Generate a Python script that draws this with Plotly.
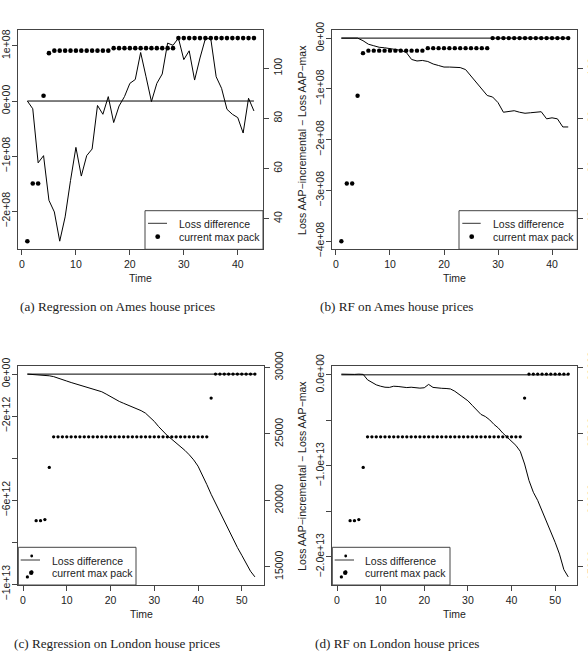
import plotly.graph_objects as go

# ---------------- data ----------------
time_ames = list(range(1, 44))
time_london = list(range(1, 54))

# Loss AAP-incremental - Loss AAP-max (Ames, units of 1e8)
ames_reg_diff_e8 = [0, -0.14, -1.12, -0.99, -1.80, -2.01, -2.54, -2.10, -1.44, -0.84,
                    -1.36, -0.99, -0.87, -0.08, -0.24, 0.08, -0.39, -0.09, 0.08, 0.32,
                    0.39, 0.88, 0.44, -0.01, 0.32, 0.49, 1.05, 1.01, 1.14, 0.75,
                    0.91, 0.38, 0.78, 1.13, 1.13, 0.44, 0.23, -0.15, -0.24, -0.30,
                    -0.58, 0.05, -0.18]
ames_rf_diff_e8 = [0, 0, 0, 0, -0.05, -0.12, -0.15, -0.18, -0.19, -0.21,
                   -0.22, -0.24, -0.28, -0.42, -0.45, -0.44, -0.46, -0.51, -0.54, -0.57,
                   -0.57, -0.57, -0.58, -0.62, -0.75, -0.88, -1.01, -1.13, -1.16, -1.27,
                   -1.46, -1.45, -1.43, -1.46, -1.48, -1.47, -1.46, -1.45, -1.59, -1.57,
                   -1.59, -1.75, -1.75]
ames_max_pack = [31, 54, 54, 89, 106, 107, 107, 107, 107, 107,
                 107, 107, 107, 107, 107, 107, 108, 108, 108, 108,
                 108, 108, 108, 108, 108, 108, 108, 108, 112, 112,
                 112, 112, 112, 112, 112, 112, 112, 112, 112, 112,
                 112, 112, 112]

# London (units of 1e12)
london_reg_diff_e12 = [0, -0.01, -0.02, -0.03, -0.05, -0.08, -0.12, -0.18, -0.25, -0.33,
                       -0.40, -0.46, -0.52, -0.58, -0.64, -0.71, -0.78, -0.84, -0.95, -1.08,
                       -1.20, -1.30, -1.39, -1.48, -1.56, -1.64, -1.74, -1.86, -2.04, -2.25,
                       -2.50, -2.74, -2.93, -3.10, -3.27, -3.45, -3.63, -3.84, -4.08, -4.38,
                       -4.78, -5.25, -5.72, -6.15, -6.57, -7.00, -7.42, -7.85, -8.25, -8.62,
                       -9.00, -9.38, -9.65]
london_rf_diff_e12 = [0.08, 0.05, 0.05, 0.05, 0.08, 0.05, -0.55, -0.85, -1.10, -1.25,
                      -1.36, -1.38, -1.25, -1.28, -1.33, -1.40, -1.36, -1.45, -1.46, -1.42,
                      -1.05, -1.38, -1.45, -1.48, -1.50, -1.55, -1.80, -2.15, -2.50, -2.85,
                      -3.35, -3.90, -4.35, -4.58, -4.95, -5.45, -5.85, -6.40, -6.85, -7.35,
                      -7.75, -8.40, -9.80, -11.60, -12.90, -13.80, -14.90, -16.00, -17.20, -18.40,
                      -19.70, -21.40, -22.20]
london_max_pack = [14250, 14620, 18480, 18480, 18560, 22480, 24780, 24780, 24780, 24780,
                   24780, 24780, 24780, 24780, 24780, 24780, 24780, 24780, 24780, 24780,
                   24780, 24780, 24780, 24780, 24780, 24780, 24780, 24780, 24780, 24780,
                   24780, 24780, 24780, 24780, 24780, 24780, 24780, 24780, 24780, 24780,
                   24780, 24780, 27700, 29500, 29500, 29500, 29500, 29500, 29500, 29500,
                   29500, 29500, 29500]

captions = ["(a) Regression on Ames house prices", "(b) RF on Ames house prices",
            "(c) Regression on London house prices", "(d) RF on London house prices"]
legend_labels = ["Loss difference", "current max pack"]
ylabel = "Loss AAP\u2212incremental \u2212 Loss AAP\u2212max"

# tick labels
ames_reg_left_vals = [-2e8, -1e8, 0, 1e8]
ames_reg_left_text = ["\u22122e+08", "\u22121e+08", "0e+00", "1e+08"]
ames_rf_left_vals = [-4e8, -3e8, -2e8, -1e8, 0]
ames_rf_left_text = ["\u22124e+08", "\u22123e+08", "\u22122e+08", "\u22121e+08", "0e+00"]
london_reg_left_vals = [-1e13, -8e12, -6e12, -4e12, -2e12, 0]
london_reg_left_text = ["\u22121e+13", "", "\u22126e+12", "", "\u22122e+12", "0e+00"]
london_rf_left_vals = [-2e13, -1.5e13, -1e13, -5e12, 0]
london_rf_left_text = ["\u22122.0e+13", "", "\u22121.0e+13", "", "0.0e+00"]
ames_right_ticks = [40, 60, 80, 100]
london_right_ticks = [15000, 20000, 25000, 30000]
ames_x_ticks = [0, 10, 20, 30, 40]
london_x_ticks = [0, 10, 20, 30, 40, 50]

# ---------------- layout helpers ----------------
W, H = 588, 654
def PX(x): return x / W
def PY(y): return 1 - y / H

def rrange(vals):
    lo, hi = min(vals), max(vals)
    p = 0.04 * (hi - lo)
    return [lo - p, hi + p]

FONT = "Liberation Sans"
FS = 10.5
TXT = "#222222"
LINEC = "#444444"

panels = [
    dict(t=time_ames, diff=[v * 1e8 for v in ames_reg_diff_e8], pack=ames_max_pack,
         ylim=None, lv=ames_reg_left_vals, lt=ames_reg_left_text, rv=ames_right_ticks,
         xv=ames_x_ticks, box=(18.3, 263.0, 30.0, 249.3), ms=4.6, ylab=False,
         leg=dict(box=(145.0, 263.0, 210.7, 249.3), line=(148.0, 167.0, 223.3),
                  dot=(157.7, 236.7, 2.4), small=None, tx=176.7, ty=(224.0, 237.0))),
    dict(t=time_ames, diff=[v * 1e8 for v in ames_rf_diff_e8], pack=ames_max_pack,
         ylim=[-4e8, 0], lv=ames_rf_left_vals, lt=ames_rf_left_text, rv=ames_right_ticks,
         xv=ames_x_ticks, box=(332.3, 577.3, 30.0, 249.3), ms=4.4, ylab=True,
         leg=dict(box=(459.0, 577.3, 210.7, 249.3), line=(462.3, 480.7, 223.3),
                  dot=(471.7, 236.7, 2.4), small=None, tx=490.7, ty=(224.0, 237.0))),
    dict(t=time_london, diff=[v * 1e12 for v in london_reg_diff_e12], pack=london_max_pack,
         ylim=None, lv=london_reg_left_vals, lt=london_reg_left_text, rv=london_right_ticks,
         xv=london_x_ticks, box=(18.3, 264.0, 366.0, 585.0), ms=3.3, ylab=False,
         leg=dict(box=(18.3, 136.0, 547.3, 585.0), line=(20.7, 40.0, 560.0),
                  dot=(31.2, 572.7, 2.2), small=(31.7, 556.0, 1.4), tx=50.0, ty=(560.7, 573.3))),
    dict(t=time_london, diff=[v * 1e12 for v in london_rf_diff_e12], pack=london_max_pack,
         ylim=None, lv=london_rf_left_vals, lt=london_rf_left_text, rv=london_right_ticks,
         xv=london_x_ticks, box=(332.3, 577.3, 366.0, 585.0), ms=3.3, ylab=True,
         leg=dict(box=(332.3, 450.0, 547.3, 585.0), line=(334.7, 354.0, 560.0),
                  dot=(345.2, 572.7, 2.2), small=(345.7, 556.0, 1.4), tx=363.3, ty=(560.7, 573.3))),
]

fig = go.Figure()
layout = dict(width=W, height=H, autosize=False, margin=dict(l=0, r=0, t=0, b=0, autoexpand=False),
              paper_bgcolor="white", plot_bgcolor="white", showlegend=False,
              font=dict(family=FONT, size=FS, color=TXT))
annotations = []
shapes = []

tickfont = dict(family=FONT, size=FS, color=TXT)

for i, p in enumerate(panels):
    xa = "x" if i == 0 else f"x{i + 1}"
    yl_n = 2 * i + 1
    yr_n = 2 * i + 2
    yl = "y" if yl_n == 1 else f"y{yl_n}"
    yr = f"y{yr_n}"
    x0, x1, y0, y1 = p["box"]
    t = p["t"]

    fig.add_trace(go.Scatter(x=[t[0], t[-1]], y=[0, 0], mode="lines",
                             line=dict(color="black", width=1), xaxis=xa, yaxis=yl))
    fig.add_trace(go.Scatter(x=t, y=p["diff"], mode="lines",
                             line=dict(color="black", width=1), xaxis=xa, yaxis=yl))
    fig.add_trace(go.Scatter(x=t, y=p["pack"], mode="markers",
                             marker=dict(color="black", size=p["ms"], line=dict(width=0)),
                             xaxis=xa, yaxis=yr))

    xkey = "xaxis" if i == 0 else f"xaxis{i + 1}"
    ylkey = "yaxis" if yl_n == 1 else f"yaxis{yl_n}"
    yrkey = f"yaxis{yr_n}"
    left_range = rrange(p["ylim"] if p["ylim"] is not None else p["diff"] + [0])
    layout[xkey] = dict(domain=[PX(x0), PX(x1)], range=rrange(t), anchor=yl, automargin=False,
                        tickmode="array", tickvals=p["xv"], ticktext=[str(v) for v in p["xv"]],
                        ticks="outside", ticklen=5, tickwidth=1, tickcolor=LINEC,
                        showline=True, linecolor=LINEC, linewidth=1, mirror=True,
                        showgrid=False, zeroline=False, tickfont=tickfont)
    layout[ylkey] = dict(domain=[PY(y1), PY(y0)], range=left_range, anchor=xa, automargin=False,
                         tickmode="array", tickvals=p["lv"], ticktext=p["lt"], tickangle=-90,
                         ticks="outside", ticklen=5, tickwidth=1, tickcolor=LINEC,
                         ticklabelstandoff=-2,
                         showline=True, linecolor=LINEC, linewidth=1, mirror=True,
                         showgrid=False, zeroline=False, tickfont=tickfont)
    layout[yrkey] = dict(overlaying=yl, side="right", anchor=xa, range=rrange(p["pack"]),
                         automargin=False,
                         tickmode="array", tickvals=p["rv"], ticktext=[str(v) for v in p["rv"]],
                         tickangle=-90, ticks="outside", ticklen=5, tickwidth=1, tickcolor=LINEC,
                         showline=False, showgrid=False, zeroline=False, tickfont=tickfont)

    # x-axis title
    annotations.append(dict(text="Time", x=PX((x0 + x1) / 2), y=PY(y1 + 29), xref="paper", yref="paper",
                            showarrow=False, xanchor="center", yanchor="middle",
                            font=dict(family=FONT, size=FS, color=TXT)))
    if p["ylab"]:
        annotations.append(dict(text=ylabel, x=PX(301.3), y=PY((y0 + y1) / 2), xref="paper", yref="paper",
                                showarrow=False, xanchor="center", yanchor="middle", textangle=-90,
                                font=dict(family=FONT, size=FS, color=TXT)))

    # legend
    lg = p["leg"]
    bx0, bx1, by0, by1 = lg["box"]
    shapes.append(dict(type="rect", xref="paper", yref="paper", x0=PX(bx0), x1=PX(bx1),
                       y0=PY(by1), y1=PY(by0), line=dict(color=LINEC, width=1)))
    lx0, lx1, ly = lg["line"]
    shapes.append(dict(type="line", xref="paper", yref="paper", x0=PX(lx0), x1=PX(lx1),
                       y0=PY(ly), y1=PY(ly), line=dict(color="#333333", width=1)))
    dots = [lg["dot"]] + ([lg["small"]] if lg["small"] else [])
    for cx, cy, r in dots:
        shapes.append(dict(type="circle", xref="paper", yref="paper", x0=PX(cx - r), x1=PX(cx + r),
                           y0=PY(cy + r), y1=PY(cy - r), fillcolor="black", line=dict(width=0)))
    for lab, ty in zip(legend_labels, lg["ty"]):
        annotations.append(dict(text=lab, x=PX(lg["tx"]), y=PY(ty), xref="paper", yref="paper",
                                showarrow=False, xanchor="left", yanchor="middle",
                                font=dict(family=FONT, size=FS, color=TXT)))

# captions
cap_pos = [(117.0, 306.0), (396.5, 306.0), (117.3, 643.3), (396.7, 643.3)]
for cap, (cx, cy) in zip(captions, cap_pos):
    annotations.append(dict(text=cap, x=PX(cx), y=PY(cy), xref="paper", yref="paper",
                            showarrow=False, xanchor="center", yanchor="middle",
                            font=dict(family="Liberation Serif", size=13.2, color=TXT)))

layout["annotations"] = annotations
layout["shapes"] = shapes
fig.update_layout(**layout)
fig.write_html("out.html")
